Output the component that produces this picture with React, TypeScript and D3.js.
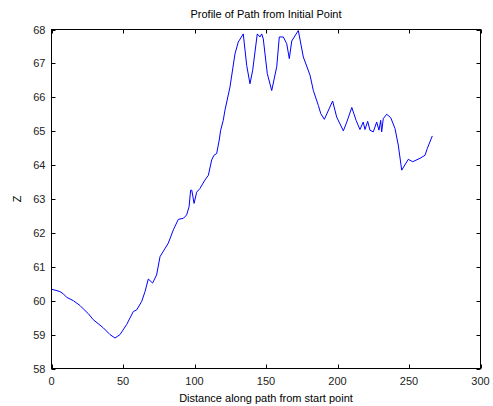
import { useEffect, useRef } from "react";
import * as d3 from "d3";

// distance along path and elevation
const distance = [
  0, 5.9, 8.3, 10.6, 15.3, 19.9, 22.2, 25.7, 29.2, 36.2, 40.9, 44.4, 47.9, 52.6,
  57.2, 59.6, 63.1, 65.4, 67.7, 70.7, 73.5, 75.9, 81.7, 85.2, 88.7, 92.2, 94.5,
  96.2, 97.3, 98.1, 99.7, 101.5, 103.8, 107.3, 109.7, 112, 113.6, 115.5, 117.3,
  118.3, 120.1, 121.3, 124.8, 128.3, 130.6, 134.1, 136.5, 138.8, 140.7, 143.9,
  145.8, 147, 148.1, 150.9, 154, 157.5, 159.3, 162.1, 164.5, 166.3, 168, 172.6,
  176.1, 180.8, 183.1, 186.6, 188.3, 190.8, 196.6, 199.4, 204.1, 206.5, 210,
  213, 215.7, 218, 219.2, 221.1, 222.7, 225, 227.4, 229, 230.2, 230.9, 232,
  234.4, 237.2, 240.2, 242.5, 244.9, 249.5, 252.6, 257.7, 261.2, 262.8, 266.3,
];
const elevation = [
  60.34, 60.27, 60.2, 60.1, 60.0, 59.86, 59.76, 59.62, 59.44, 59.2, 59.0, 58.9,
  59.0, 59.3, 59.68, 59.73, 59.98, 60.27, 60.64, 60.52, 60.76, 61.3, 61.7, 62.09,
  62.4, 62.43, 62.53, 62.77, 63.26, 63.26, 62.87, 63.2, 63.31, 63.56, 63.7,
  64.15, 64.29, 64.34, 64.74, 65.03, 65.32, 65.62, 66.3, 67.28, 67.63, 67.87,
  66.94, 66.4, 66.8, 67.87, 67.78, 67.87, 67.72, 66.7, 66.2, 66.9, 67.78, 67.78,
  67.58, 67.14, 67.66, 67.97, 67.19, 66.65, 66.2, 65.76, 65.52, 65.35, 65.89,
  65.42, 65.01, 65.27, 65.7, 65.32, 65.05, 65.27, 65.05, 65.29, 65.03, 64.98,
  65.27, 65.03, 65.32, 64.98, 65.37, 65.5, 65.4, 65.08, 64.59, 63.85, 64.17,
  64.1, 64.2, 64.29, 64.49, 64.86,
];
const xTicks = [0, 50, 100, 150, 200, 250, 300];
const yTicks = [58, 59, 60, 61, 62, 63, 64, 65, 66, 67, 68];

const W = 493;
const H = 406;
const FONT = "'Liberation Sans', Arial, sans-serif";

export default function App() {
  const svgRef = useRef<SVGSVGElement>(null);

  useEffect(() => {
    if (!svgRef.current) return;
    const svg = d3.select(svgRef.current);
    svg.selectAll("*").remove();

    const left = 51.5;
    const right = 480.5;
    const top = 29.5;
    const bottom = 368.5;

    const x = d3.scaleLinear().domain([0, 300]).range([left, right]);
    const y = d3.scaleLinear().domain([58, 68]).range([bottom, top]);

    svg.append("rect").attr("width", W).attr("height", H).attr("fill", "#fff");

    // profile line
    const line = d3
      .line<number>()
      .x((_, i) => x(distance[i]))
      .y((d) => y(d));
    svg
      .append("path")
      .datum(elevation)
      .attr("d", line)
      .attr("fill", "none")
      .attr("stroke", "#0000ff")
      .attr("stroke-width", 1);

    // axes box
    svg
      .append("rect")
      .attr("x", left)
      .attr("y", top)
      .attr("width", right - left)
      .attr("height", bottom - top)
      .attr("fill", "none")
      .attr("stroke", "#000")
      .attr("stroke-width", 1);

    // ticks point inward on all four sides
    const tl = 4;
    const gx = svg.append("g");
    xTicks.forEach((t) => {
      const px = Math.round(x(t)) + 0.5;
      gx.append("line").attr("x1", px).attr("x2", px).attr("y1", bottom).attr("y2", bottom - tl).attr("stroke", "#000");
      gx.append("line").attr("x1", px).attr("x2", px).attr("y1", top).attr("y2", top + tl).attr("stroke", "#000");
      gx.append("text")
        .attr("x", x(t))
        .attr("y", bottom + 16)
        .attr("text-anchor", "middle")
        .attr("font-family", FONT)
        .attr("font-size", 11)
        .attr("fill", "#222")
        .text(String(t));
    });

    const gy = svg.append("g");
    yTicks.forEach((t) => {
      const py = Math.round(y(t)) + 0.5;
      gy.append("line").attr("x1", left).attr("x2", left + tl).attr("y1", py).attr("y2", py).attr("stroke", "#000");
      gy.append("line").attr("x1", right).attr("x2", right - tl).attr("y1", py).attr("y2", py).attr("stroke", "#000");
      gy.append("text")
        .attr("x", left - 6)
        .attr("y", y(t) + 4)
        .attr("text-anchor", "end")
        .attr("font-family", FONT)
        .attr("font-size", 11)
        .attr("fill", "#222")
        .text(String(t));
    });

    svg
      .append("text")
      .attr("x", (left + right) / 2)
      .attr("y", 18)
      .attr("text-anchor", "middle")
      .attr("font-family", FONT)
      .attr("font-size", 11)
      .attr("fill", "#000")
      .text("Profile of Path from Initial Point");

    svg
      .append("text")
      .attr("x", (left + right) / 2)
      .attr("y", 402)
      .attr("text-anchor", "middle")
      .attr("font-family", FONT)
      .attr("font-size", 11)
      .attr("fill", "#000")
      .text("Distance along path from start point");

    svg
      .append("text")
      .attr("transform", `translate(21,${(top + bottom) / 2}) rotate(-90)`)
      .attr("text-anchor", "middle")
      .attr("font-family", FONT)
      .attr("font-size", 11)
      .attr("fill", "#000")
      .text("Z");
  }, []);

  return (
    <svg
      ref={svgRef}
      width={W}
      height={H}
      style={{ position: "absolute", left: 0, top: 0, display: "block" }}
    />
  );
}
